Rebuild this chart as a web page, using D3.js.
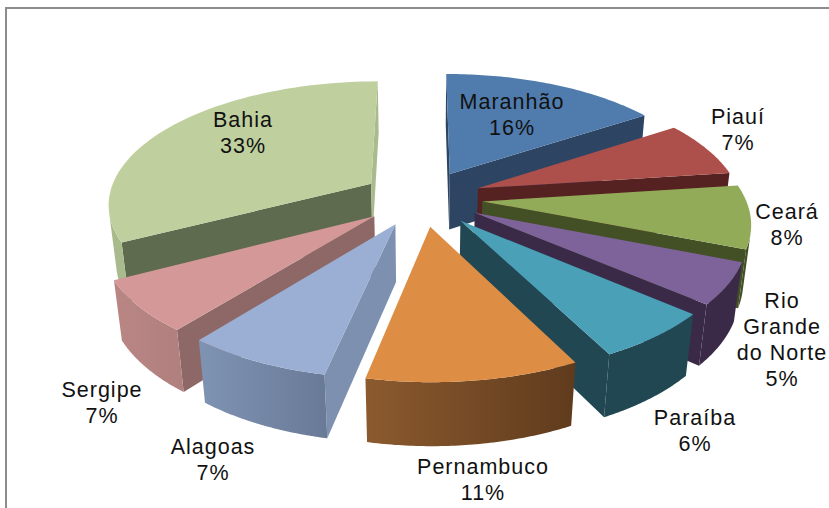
<!DOCTYPE html>
<html>
<head>
<meta charset="utf-8">
<script src="https://cdn.jsdelivr.net/npm/d3@7"></script>
<style>
html, body { margin: 0; padding: 0; background: #fff; }
svg { display: block; }
text { font-family: "Liberation Sans", Arial, sans-serif; font-size: 21.5px; letter-spacing: 1px; fill: #111; text-anchor: middle; }
</style>
</head>
<body>
<script>
var states = ["Maranhão", "Piauí", "Ceará", "Rio Grande do Norte", "Paraíba", "Pernambuco", "Alagoas", "Sergipe", "Bahia"]
// the labels show them rounded
var shares = [15.7, 7.2, 8.1, 5.3, 6.2, 10.8, 7.4, 6.6, 32.7]

// colours of the top face, the cut faces and the outer wall (left to right)
var topColors = ["#4f7cad", "#ad504c", "#92ab58", "#7d6399", "#4aa0b7", "#dd8d44", "#9aafd3", "#d39897", "#bfcf9e"]
var cutColors = ["#2d4462", "#562121", "#434f25", "#3a2a47", "#214753", "#5f3b1d", "#7d90b0", "#8e6866", "#5f6b4e"]
var wallFrom = ["#2d4462", "#562121", "#434f25", "#3a2a47", "#214753", "#8c5a2e", "#7f93b3", "#b98684", "#a9ba8c"]
var wallTo = ["#2d4462", "#562121", "#434f25", "#3a2a47", "#214753", "#5f3b1d", "#697a97", "#b0807e", "#a9ba8c"]

// label name lines, block centre x and first baseline
var labelLines = [["Maranhão"], ["Piauí"], ["Ceará"], ["Rio", "Grande", "do Norte"], ["Paraíba"], ["Pernambuco"], ["Alagoas"], ["Sergipe"], ["Bahia"]]
var labelX = [512, 738, 787, 782, 695, 483, 213, 102, 243]
var labelY = [109, 124, 219, 308, 425, 474, 454, 397, 127]

var width = 829, height = 508
var cx = 422, cy = 198
var scaleX = 263, scaleY = 122
var persp = 0.152, drop = 0.024, thick = 58, explode = 0.23

var svg = d3.select("body").append("svg")
    .attr("width", width)
    .attr("height", height)

var defs = svg.append("defs")

// frame
svg.append("path")
    .attr("d", "M6," + height + "V8H" + width)
    .attr("fill", "none")
    .attr("stroke", "#8c8c8c")
    .attr("stroke-width", 2)

function project(x, y, below) {
    var w = 1 - persp * y + (below ? drop : 0)
    return [cx + scaleX * x / w, cy + (scaleY * y + (below ? thick : 0)) / w]
}

var arcs = d3.pie().sort(null).value(function(d) { return d })(shares)
var line = d3.line()

function slicePoint(d, angle, r, below) {
    var mid = (d.startAngle + d.endAngle) / 2
    var x = explode * Math.sin(mid) + r * Math.sin(angle)
    var y = -explode * Math.cos(mid) - r * Math.cos(angle)
    return project(x, y, below)
}

function quad(a, b, c, e) {
    return line([a, b, c, e]) + "Z"
}

// far slices first
var order = d3.range(arcs.length).sort(function(a, b) {
    var ma = (arcs[a].startAngle + arcs[a].endAngle) / 2
    var mb = (arcs[b].startAngle + arcs[b].endAngle) / 2
    return Math.cos(mb) - Math.cos(ma)
})

order.forEach(function(i) {
    var d = arcs[i]
    var g = svg.append("g").attr("class", "slice")
    var steps = d3.range(0, 61).map(function(k) {
        return d.startAngle + (d.endAngle - d.startAngle) * k / 60
    })

    var apex = slicePoint(d, 0, 0, false)
    var apexB = slicePoint(d, 0, 0, true)
    var s = slicePoint(d, d.startAngle, 1, false)
    var sB = slicePoint(d, d.startAngle, 1, true)
    var e = slicePoint(d, d.endAngle, 1, false)
    var eB = slicePoint(d, d.endAngle, 1, true)

    // cut faces, only those that look at the camera
    if (d3.polygonArea([apex, s, sB, apexB]) > 0) {
        g.append("path").attr("d", quad(apex, s, sB, apexB)).attr("fill", cutColors[i])
    }
    if (d3.polygonArea([e, apex, apexB, eB]) > 0) {
        g.append("path").attr("d", quad(e, apex, apexB, eB))
            .attr("fill", states[i] == "Bahia" ? wallFrom[i] : cutColors[i])
    }

    // outer wall
    var upper = [], lower = []
    for (var k = 0; k < steps.length - 1; k++) {
        var p = slicePoint(d, steps[k], 1, false)
        var q = slicePoint(d, steps[k + 1], 1, false)
        var pB = slicePoint(d, steps[k], 1, true)
        var qB = slicePoint(d, steps[k + 1], 1, true)
        if (d3.polygonArea([p, q, qB, pB]) > 0) {
            if (!upper.length) { upper.push(p); lower.push(pB) }
            upper.push(q)
            lower.push(qB)
        }
    }
    if (upper.length) {
        var grad = defs.append("linearGradient").attr("id", "wall" + i)
        grad.append("stop").attr("offset", "0%").attr("stop-color", wallFrom[i])
        grad.append("stop").attr("offset", "100%").attr("stop-color", wallTo[i])
        g.append("path")
            .attr("d", line(upper.concat(lower.reverse())) + "Z")
            .attr("fill", "url(#wall" + i + ")")
    }

    // top face
    var rim = steps.map(function(a) { return slicePoint(d, a, 1, false) })
    g.append("path")
        .attr("d", line([apex].concat(rim)) + "Z")
        .attr("fill", topColors[i])
})

labelLines.forEach(function(lines, i) {
    var t = svg.append("text").attr("class", "label")
    lines.concat([Math.round(shares[i]) + "%"]).forEach(function(s, j) {
        t.append("tspan")
            .attr("x", labelX[i])
            .attr("y", labelY[i] + j * 26)
            .text(s)
    })
})
</script>
</body>
</html>
